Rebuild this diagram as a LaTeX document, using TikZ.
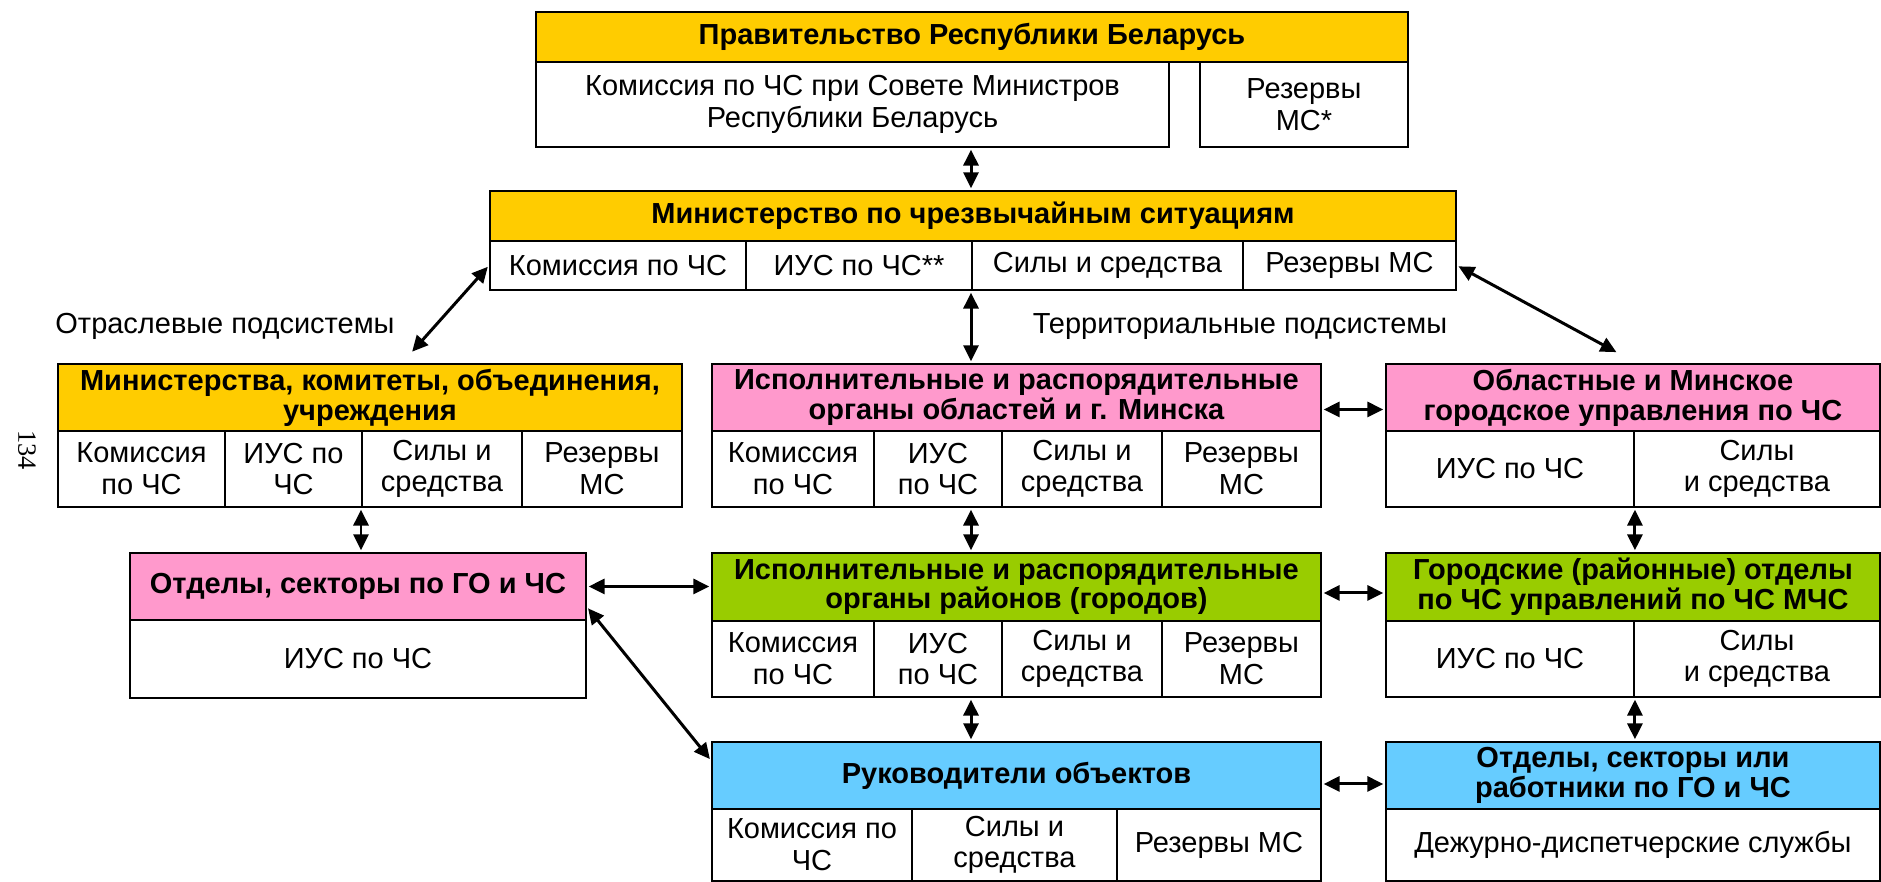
\documentclass[tikz,border=0pt]{standalone}
\usepackage{fontspec}
\setmainfont{Liberation Sans}
\newfontfamily\pagefnt{Liberation Serif}
\usetikzlibrary{arrows.meta}
\definecolor{yel}{HTML}{FFCC00}
\definecolor{pnk}{HTML}{FF99CC}
\definecolor{grn}{HTML}{99CC00}
\definecolor{blu}{HTML}{66CCFF}
\tikzset{
  cell/.style={draw, line width=1.1pt, inner sep=0pt, align=center, anchor=north west,
    font=\fontsize{16.5}{18}\selectfont},
  head/.style={cell, font=\fontsize{16.5}{17}\selectfont\bfseries},
  wd/.style={minimum width=#1*0.02cm},
  ht/.style={minimum height=#1*0.02cm},
  dbl/.style={line width=1.7pt, shorten <=1pt, shorten >=1pt,
    {Triangle[length=9pt,width=8.5pt]}-{Triangle[length=9pt,width=8.5pt]}},
}

\begin{document}
\begin{tikzpicture}[x=0.02cm, y=-0.02cm]
  \useasboundingbox (0,0) rectangle (1881,882);

  % government
  \node[head, fill=yel, wd=872, ht=50] (gov) at (535,11) {Правительство Республики Беларусь};
  \node[cell, wd=633, ht=85] (gcom) at (535,61) {Комиссия по ЧС при Совете Министров\\ Республики Беларусь};
  \node[cell, wd=208, ht=85] (gres) at (1199,61) {Резервы\\ МС*};

  % ministry
  \node[head, fill=yel, wd=966, ht=50] (mch) at (489,190) {Министерство по чрезвычайным ситуациям};
  \node[cell, wd=256, ht=49] (m1) at (489,240) {Комиссия по ЧС};
  \node[cell, wd=226, ht=49] (m2) at (745,240) {ИУС по ЧС**};
  \node[cell, wd=271, ht=49] (m3) at (971,240) {Силы и средства};
  \node[cell, wd=213, ht=49] (m4) at (1242,240) {Резервы МС};

  \node[font=\fontsize{16.5}{18}\selectfont] (lotr) at (225,326) {Отраслевые подсистемы};
  \node[font=\fontsize{16.5}{18}\selectfont] (lter) at (1240,327) {Территориальные подсистемы};
  \node[font=\pagefnt\fontsize{15}{16}\selectfont, rotate=-90] (pnum) at (27,450) {134};

  % branch subsystems
  \node[head, fill=yel, wd=624, ht=67] (min) at (57,363) {Министерства, комитеты, объединения,\\ учреждения};
  \node[cell, wd=167, ht=76] (mn1) at (57,430) {Комиссия\\ по ЧС};
  \node[cell, wd=137, ht=76] (mn2) at (224,430) {ИУС по\\ ЧС};
  \node[cell, wd=160, ht=76] (mn3) at (361,430) {Силы и\\ средства};
  \node[cell, wd=160, ht=76] (mn4) at (521,430) {Резервы\\ МС};

  \node[head, fill=pnk, wd=456, ht=67] (otd) at (129,552) {Отделы, секторы по ГО и ЧС};
  \node[cell, wd=456, ht=78] (ot1) at (129,619) {ИУС по ЧС};

  % regions
  \node[head, fill=pnk, wd=609, ht=67] (eob) at (711,363) {Исполнительные и распорядительные\\ органы областей и г. Минска};
  \node[cell, wd=162, ht=76] (eo1) at (711,430) {Комиссия\\ по ЧС};
  \node[cell, wd=128, ht=76] (eo2) at (873,430) {ИУС\\ по ЧС};
  \node[cell, wd=160, ht=76] (eo3) at (1001,430) {Силы и\\ средства};
  \node[cell, wd=159, ht=76] (eo4) at (1161,430) {Резервы\\ МС};

  \node[head, fill=pnk, wd=494, ht=67] (omc) at (1385,363) {Областные и Минское\\ городское управления по ЧС};
  \node[cell, wd=248, ht=76] (om1) at (1385,430) {ИУС по ЧС};
  \node[cell, wd=246, ht=76] (om2) at (1633,430) {Силы\\ и средства};

  % districts
  \node[head, fill=grn, wd=609, ht=68] (erd) at (711,552) {Исполнительные и распорядительные\\ органы районов (городов)};
  \node[cell, wd=162, ht=76] (ed1) at (711,620) {Комиссия\\ по ЧС};
  \node[cell, wd=128, ht=76] (ed2) at (873,620) {ИУС\\ по ЧС};
  \node[cell, wd=160, ht=76] (ed3) at (1001,620) {Силы и\\ средства};
  \node[cell, wd=159, ht=76] (ed4) at (1161,620) {Резервы\\ МС};

  \node[head, fill=grn, wd=494, ht=68] (gor) at (1385,552) {Городские (районные) отделы\\ по ЧС управлений по ЧС МЧС};
  \node[cell, wd=248, ht=76] (gr1) at (1385,620) {ИУС по ЧС};
  \node[cell, wd=246, ht=76] (gr2) at (1633,620) {Силы\\ и средства};

  % objects
  \node[head, fill=blu, wd=609, ht=67] (ruk) at (711,741) {Руководители объектов};
  \node[cell, wd=200, ht=72] (rk1) at (711,808) {Комиссия по\\ ЧС};
  \node[cell, wd=205, ht=72] (rk2) at (911,808) {Силы и\\ средства};
  \node[cell, wd=204, ht=72] (rk3) at (1116,808) {Резервы МС};

  \node[head, fill=blu, wd=494, ht=67] (osr) at (1385,741) {Отделы, секторы или\\ работники по ГО и ЧС};
  \node[cell, wd=494, ht=72] (os1) at (1385,808) {Дежурно-диспетчерские службы};

  % links
  \draw[dbl] (gcom.south -| m3.west) -- (mch.north -| m3.west);
  \draw[dbl] (m3.south west) -- (eob.north -| m3.west);
  \draw[dbl] (m1.west) -- ([shift={(0.82cm,0.2cm)}]min.north);
  \draw[dbl] (m4.east) -- ([shift={(-0.3cm,0.2cm)}]omc.north);
  \draw[dbl] ([yshift=-0.24cm]eob.east) -- ([yshift=-0.24cm]omc.west);
  \draw[dbl] (mn3.south west) -- (otd.north -| mn3.west);
  \draw[dbl] (eo2.south -| m3.west) -- (erd.north -| m3.west);
  \draw[dbl] (om1.south east) -- (gor.north -| om1.east);
  \draw[dbl] (otd.east) -- (otd.east -| erd.west);
  \draw[dbl] ([yshift=-0.12cm]erd.east) -- ([yshift=-0.12cm]gor.west);
  \draw[dbl] (ed2.south -| m3.west) -- (ruk.north -| m3.west);
  \draw[dbl] (gr1.south east) -- (osr.north -| gr1.east);
  \draw[dbl] ([yshift=-0.17cm]ruk.east) -- ([yshift=-0.17cm]osr.west);
  \draw[dbl] ([yshift=0.28cm]otd.south east) -- ([yshift=0.3cm]ruk.west);
\end{tikzpicture}
\end{document}
